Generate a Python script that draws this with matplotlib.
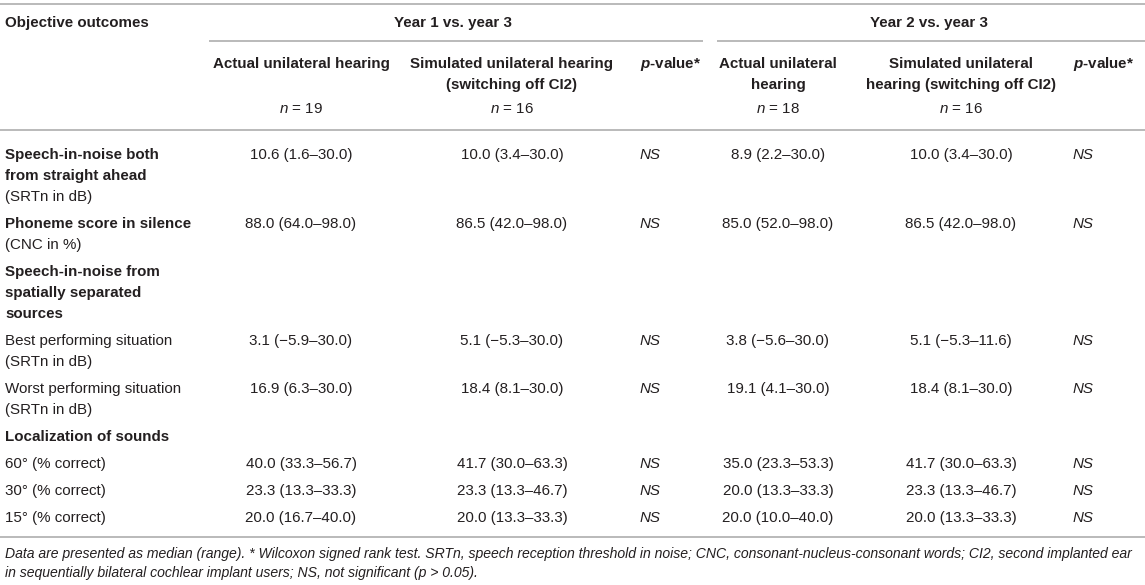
import matplotlib
matplotlib.use("Agg")
import matplotlib.pyplot as plt

plt.rcParams['font.family'] = ['Liberation Sans', 'DejaVu Sans']
plt.rcParams['mathtext.fontset'] = 'custom'
plt.rcParams['mathtext.rm'] = 'Liberation Sans'
plt.rcParams['mathtext.it'] = 'Liberation Sans:italic'
plt.rcParams['mathtext.bf'] = 'Liberation Sans:bold'
plt.rcParams['mathtext.bfit'] = 'Liberation Sans:italic:bold'

# ---------------- data ----------------
stub_title = "Objective outcomes"
group_titles = ["Year 1 vs. year 3", "Year 2 vs. year 3"]
col_headers = ["Actual unilateral hearing",
               "Simulated unilateral hearing\n(switching off CI2)",
               "p-value*",
               "Actual unilateral\nhearing",
               "Simulated unilateral\nhearing (switching off CI2)",
               "p-value*"]
n_values = [19, 16, None, 18, 16, None]

# row label lines: (text, weight)
row_labels = [
    [("Speech-in-noise both", "bold"), ("from straight ahead", "bold"), ("(SRTn in dB)", "normal")],
    [("Phoneme score in silence", "bold"), ("(CNC in %)", "normal")],
    [("Speech-in-noise from", "bold"), ("spatially separated", "bold"), ("sources", "bold")],
    [("Best performing situation", "normal"), ("(SRTn in dB)", "normal")],
    [("Worst performing situation", "normal"), ("(SRTn in dB)", "normal")],
    [("Localization of sounds", "bold")],
    [("60° (% correct)", "normal")],
    [("30° (% correct)", "normal")],
    [("15° (% correct)", "normal")],
]

# median, low, high per row (None = section header row)
y1_actual = [(10.6, 1.6, 30.0), (88.0, 64.0, 98.0), None, (3.1, -5.9, 30.0), (16.9, 6.3, 30.0),
             None, (40.0, 33.3, 56.7), (23.3, 13.3, 33.3), (20.0, 16.7, 40.0)]
y1_sim = [(10.0, 3.4, 30.0), (86.5, 42.0, 98.0), None, (5.1, -5.3, 30.0), (18.4, 8.1, 30.0),
          None, (41.7, 30.0, 63.3), (23.3, 13.3, 46.7), (20.0, 13.3, 33.3)]
y1_p = ["NS", "NS", "", "NS", "NS", "", "NS", "NS", "NS"]
y2_actual = [(8.9, 2.2, 30.0), (85.0, 52.0, 98.0), None, (3.8, -5.6, 30.0), (19.1, 4.1, 30.0),
             None, (35.0, 23.3, 53.3), (20.0, 13.3, 33.3), (20.0, 10.0, 40.0)]
y2_sim = [(10.0, 3.4, 30.0), (86.5, 42.0, 98.0), None, (5.1, -5.3, 11.6), (18.4, 8.1, 30.0),
          None, (41.7, 30.0, 63.3), (23.3, 13.3, 46.7), (20.0, 13.3, 33.3)]
y2_p = ["NS", "NS", "", "NS", "NS", "", "NS", "NS", "NS"]

footnote = ["Data are presented as median (range). * Wilcoxon signed rank test. SRTn, speech reception threshold in noise; CNC, consonant-nucleus-consonant words; CI2, second implanted ear",
            "in sequentially bilateral cochlear implant users; NS, not significant (p > 0.05)."]

# ---------------- layout ----------------
W, H = 1145, 585
TXT = '#231f20'
LINE = '#b4b4b4'
FS = 10.9
BO = 5.2   # baseline offset from visual text centre (px)
fig = plt.figure(figsize=(W / 100, H / 100), dpi=100)
ax = fig.add_axes([0, 0, 1, 1])
ax.set_xlim(0, W)
ax.set_ylim(H, 0)
ax.axis('off')

def fmt(v):
    s = f"{v:.1f}"
    return s.replace('-', '\u2212')

def cell(t):
    if t is None:
        return ""
    m, lo, hi = t
    return f"{fmt(m)} ({fmt(lo)}\u2013{fmt(hi)})"

def hline(y, x0, x1):
    ax.plot([x0, x1], [y, y], color=LINE, lw=1.3, solid_capstyle='butt')

def txt(x, y, s, ha='left', **kw):
    ax.text(x, y + BO, s, fontsize=kw.pop('fontsize', FS), color=TXT, va='baseline', ha=ha, **kw)

LX = 5
col_x = [301, 512, 640, 778, 961, 1073]
col_ha = ['center', 'center', 'left', 'center', 'center', 'left']
LS = 21.0

hline(4, 0, W)
txt(LX, 22, stub_title, fontweight='bold')
txt(453, 22, group_titles[0], ha='center', fontweight='bold')
txt(929, 22, group_titles[1], ha='center', fontweight='bold')
hline(41, 209, 703)
hline(41, 717, W)

for j, hdr in enumerate(col_headers):
    if hdr.startswith('p-value'):
        txt(col_x[j], 63, r"$\mathbfit{p}$-value*", ha=col_ha[j], fontweight='bold')
    else:
        for k, line in enumerate(hdr.split('\n')):
            txt(col_x[j], 63 + k * LS, line, ha=col_ha[j], fontweight='bold')
    if n_values[j] is not None:
        txt(col_x[j], 108, r"$\mathit{n}$ = " + str(n_values[j]), ha='center')
hline(130, 0, W)

columns = [y1_actual, y1_sim, y1_p, y2_actual, y2_sim, y2_p]
y = 154
GAP = 27.0
for i, lines in enumerate(row_labels):
    for k, (t, wgt) in enumerate(lines):
        txt(LX, y + k * LS, t, fontweight=wgt)
    for j, col in enumerate(columns):
        v = col[i]
        if isinstance(v, str):
            txt(col_x[j], y, v, ha=col_ha[j], style='italic')
        else:
            txt(col_x[j], y, cell(v), ha=col_ha[j])
    y += (len(lines) - 1) * LS + GAP

hline(537, 0, W)
for k, t in enumerate(footnote):
    txt(LX, 553 + k * 18.5, t, fontsize=10.1, style='italic')

fig.savefig('out.png', dpi=100)
